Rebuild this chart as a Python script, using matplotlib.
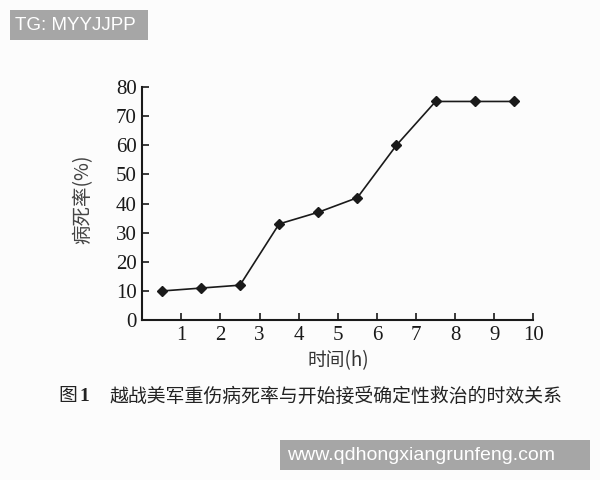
import matplotlib

matplotlib.use("Agg")

import matplotlib.pyplot as plt
from matplotlib.patches import Rectangle

plt.rcParams["font.family"] = ["Liberation Serif", "Noto Sans CJK SC", "DejaVu Sans"]

# 时间 (h) vs 病死率 (%)
hours = [0.5, 1.5, 2.5, 3.5, 4.5, 5.5, 6.5, 7.5, 8.5, 9.5]
mortality = [10, 11, 12, 33, 37, 42, 60, 75, 75, 75]
x_ticks = [1, 2, 3, 4, 5, 6, 7, 8, 9, 10]
y_ticks = [0, 10, 20, 30, 40, 50, 60, 70, 80]

fig = plt.figure(figsize=(6, 4.8), dpi=100, facecolor="#fcfcfc")
ax = fig.add_axes([0.237, 0.333, 0.652, 0.486], facecolor="#fcfcfc")

ax.plot(hours, mortality, color="#1a1a1a", lw=1.2, marker="D", ms=5.5,
        mfc="#1a1a1a", mec="#1a1a1a")

ax.set_xlim(0, 10)
ax.set_ylim(0, 80)
ax.set_xticks(x_ticks)
ax.set_yticks(y_ticks)
ax.tick_params(direction="in", length=5, width=1.2, labelsize=15,
               colors="#1a1a1a", pad=4)
for side in ("top", "right"):
    ax.spines[side].set_visible(False)
for side in ("left", "bottom"):
    ax.spines[side].set_linewidth(1.5)
    ax.spines[side].set_color("#1a1a1a")

ax.set_xlabel("时间(h)", fontsize=13.5, color="#333333", labelpad=4,
              family=["Noto Sans CJK SC", "DejaVu Sans"])
ax.set_ylabel("病死率(%)", fontsize=14, color="#444444",
              family=["Noto Sans CJK SC", "DejaVu Sans"])
ax.yaxis.set_label_coords(-0.125, 0.52)

# caption under the plot
fig.text(0.097, 0.175, "图", fontsize=13.5, color="#222222",
         family=["Noto Sans CJK SC"], va="center")
fig.text(0.133, 0.173, "1", fontsize=14, color="#222222", weight="bold",
         family=["Liberation Serif"], va="center")
fig.text(0.183, 0.175, "越战美军重伤病死率与开始接受确定性救治的时效关系",
         fontsize=13.6, color="#222222", family=["Noto Sans CJK SC"], va="center")

# watermark boxes (figure pixel coords -> fraction)
fig.add_artist(Rectangle((10 / 600, 1 - 40 / 480), 138 / 600, 30 / 480,
                         transform=fig.transFigure, fc="#a6a6a6", ec="none"))
fig.text(15 / 600, 1 - 25 / 480, "TG: MYYJJPP", fontsize=13.5, color="white",
         family=["Liberation Sans"], va="center")
fig.add_artist(Rectangle((280 / 600, 1 - 470 / 480), 310 / 600, 30 / 480,
                         transform=fig.transFigure, fc="#a6a6a6", ec="none"))
fig.text(287 / 600, 1 - 455 / 480, "www.qdhongxiangrunfeng.com", fontsize=14,
         color="white", family=["Liberation Sans"], va="center")

fig.savefig("out.png", dpi=100, facecolor=fig.get_facecolor())
plt.close(fig)
